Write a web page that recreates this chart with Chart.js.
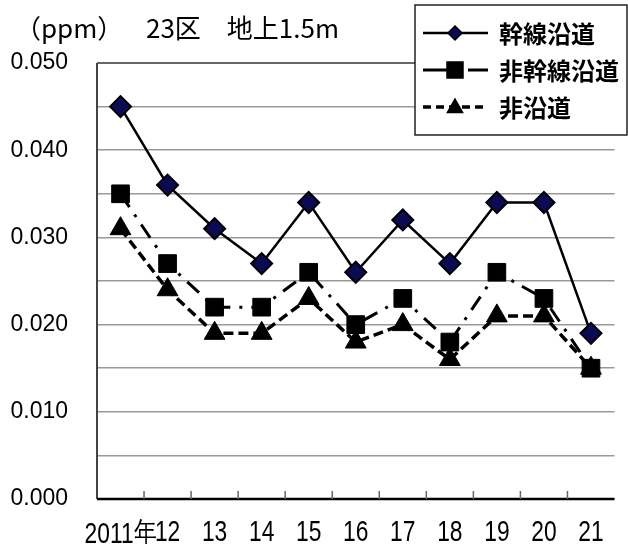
<!DOCTYPE html>
<html><head><meta charset="utf-8">
<script src="https://cdn.jsdelivr.net/npm/chart.js@4"></script>
<style>html,body{margin:0;padding:0;background:#fff}#w{width:628px;height:544px;position:relative}</style>
</head><body><div id="w"><canvas id="c" width="628" height="544"></canvas></div>
<script>
const categories = ["2011年","12","13","14","15","16","17","18","19","20","21"];
const trunkRoad = [0.045,0.036,0.031,0.027,0.034,0.026,0.032,0.027,0.034,0.034,0.019];
const nonTrunkRoad = [0.035,0.027,0.022,0.022,0.026,0.020,0.023,0.018,0.026,0.023,0.015];
const nonRoadside = [0.031,0.024,0.019,0.019,0.023,0.018,0.020,0.016,0.021,0.021,0.015];
const seriesNames = ["幹線沿道","非幹線沿道","非沿道"];
const yTickLabels = ["0.000","0.010","0.020","0.030","0.040","0.050"];
const titleUnit = "（ppm）";
const titleText = "23区　地上1.5m";

const CJK = '"Noto Sans CJK JP","Noto Sans",sans-serif';

const extras = {
  id:'extras',
  beforeDraw(chart){
    const ctx = chart.ctx;
    ctx.save();
    ctx.fillStyle='#fff'; ctx.fillRect(0,0,chart.width,chart.height);
    ctx.fillStyle='#000';
    ctx.textBaseline='middle'; ctx.textAlign='left';
    ctx.font = '26px '+CJK;
    ctx.fillText(titleUnit, 15, 28);
    ctx.fillText(titleText, 146, 28);
    ctx.restore();
  },
  beforeDatasetsDraw(chart){
    const ctx = chart.ctx, a = chart.chartArea, xs = chart.scales.x;
    ctx.save();
    ctx.strokeStyle='#666'; ctx.lineWidth=2;
    ctx.beginPath(); ctx.moveTo(a.left, a.top); ctx.lineTo(a.right, a.top); ctx.stroke();
    ctx.strokeStyle='#444'; ctx.lineWidth=2;
    ctx.beginPath(); ctx.moveTo(a.left, a.top); ctx.lineTo(a.left, a.bottom); ctx.stroke();
    ctx.strokeStyle='#000'; ctx.lineWidth=2.5;
    ctx.beginPath(); ctx.moveTo(a.left, a.bottom); ctx.lineTo(a.right, a.bottom); ctx.stroke();
    ctx.strokeStyle='#666'; ctx.lineWidth=1.5;
    for(let i=0;i<categories.length-1;i++){
      const xb = (xs.getPixelForTick(i)+xs.getPixelForTick(i+1))/2;
      ctx.beginPath(); ctx.moveTo(xb, a.bottom); ctx.lineTo(xb, a.bottom-8); ctx.stroke();
    }
    ctx.restore();
  },
  afterDraw(chart){
    const ctx = chart.ctx, xs = chart.scales.x, a = chart.chartArea;
    ctx.save();
    ctx.fillStyle='#000'; ctx.textAlign='center'; ctx.textBaseline='middle';
    ctx.font = '30px "Liberation Sans",Arial,sans-serif';
    categories.forEach((lab,i)=>{
      const x = xs.getPixelForTick(i);
      ctx.save(); ctx.translate(x, a.bottom+34); ctx.scale(0.76,1);
      ctx.fillText(lab, 0, (i===0?2:0)); ctx.restore();
    });
    const bx=415, by=5, bw=212, bh=130;
    ctx.fillStyle='#fff'; ctx.fillRect(bx,by,bw,bh);
    ctx.strokeStyle='#222'; ctx.lineWidth=1.5; ctx.strokeRect(bx,by,bw,bh);
    const rows=[33,70,107];
    chart.data.datasets.forEach((ds,i)=>{
      const y=rows[i];
      ctx.strokeStyle='#000'; ctx.lineWidth=ds.borderWidth;
      ctx.setLineDash(ds.legendDash||[]);
      ctx.beginPath(); ctx.moveTo(423,y); ctx.lineTo(488,y); ctx.stroke();
      ctx.setLineDash([]);
      ctx.fillStyle=ds.pointBackgroundColor; ctx.strokeStyle='#000'; ctx.lineWidth=1.5;
      const cx=455;
      ctx.beginPath();
      if(ds.pointStyle==='rectRot'){ const r=7; ctx.moveTo(cx,y-r);ctx.lineTo(cx+r,y);ctx.lineTo(cx,y+r);ctx.lineTo(cx-r,y);ctx.closePath(); }
      else if(ds.pointStyle==='rect'){ const s=8; ctx.rect(cx-s,y-s,2*s,2*s); }
      else { const r=8; ctx.moveTo(cx,y-r);ctx.lineTo(cx+r*0.95,y+r*0.7);ctx.lineTo(cx-r*0.95,y+r*0.7);ctx.closePath(); }
      ctx.fill(); ctx.stroke();
      ctx.fillStyle='#000'; ctx.font='bold 24px '+CJK; ctx.textBaseline='middle'; ctx.textAlign='left';
      ctx.fillText(ds.label, 499, y+1);
    });
    ctx.restore();
  }
};

new Chart(document.getElementById('c'),{
  type:'line',
  data:{labels:categories,datasets:[
    {label:seriesNames[0],data:trunkRoad,borderColor:'#000',borderWidth:2.5,pointStyle:'rectRot',pointRadius:10.5,pointBackgroundColor:'#0b0b55',pointBorderColor:'#000',pointBorderWidth:2,tension:0,legendDash:[]},
    {label:seriesNames[1],data:nonTrunkRoad,borderColor:'#000',borderWidth:3,borderDash:[16,9,3,9],pointStyle:'rect',pointRadius:12.5,pointBackgroundColor:'#000',pointBorderColor:'#000',pointBorderWidth:1,tension:0,legendDash:[26,8,3,8]},
    {label:seriesNames[2],data:nonRoadside,borderColor:'#000',borderWidth:3.5,borderDash:[10,5],pointStyle:'triangle',pointRadius:12,pointBackgroundColor:'#000',pointBorderColor:'#000',pointBorderWidth:1,tension:0,legendDash:[8,5]}
  ]},
  options:{
    responsive:false,animation:false,
    layout:{padding:{top:63,right:1,left:0,bottom:0}},
    plugins:{legend:{display:false},tooltip:{enabled:false},title:{display:false}},
    scales:{
      x:{offset:true,
        grid:{display:false,drawTicks:false},border:{display:false},
        ticks:{display:false,autoSkip:false},
        afterFit(s){s.height=45;}
      },
      y:{min:0,max:0.05,
        grid:{color:'#999',lineWidth:1.5,drawTicks:false},border:{display:false},
        ticks:{stepSize:0.005,color:'#000',padding:29,font:{family:'"Liberation Sans",Arial,sans-serif',size:23},
          callback:(v)=>{const k=Math.round(v*1000); return (k%10===0)? yTickLabels[k/10] : '';}},
        afterFit(s){s.width=97;}
      }
    }
  },
  plugins:[extras]
});
</script></body></html>
